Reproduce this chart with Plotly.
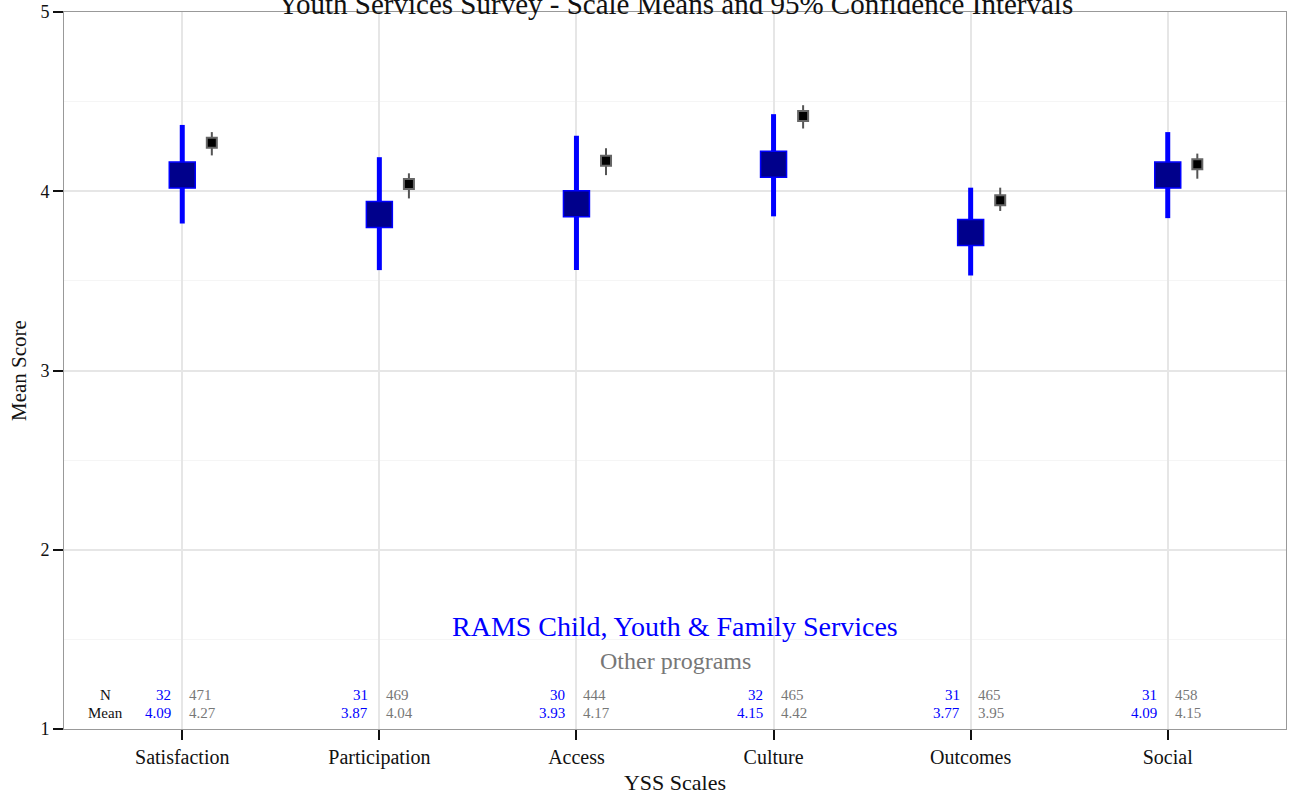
import plotly.graph_objects as go

# YSS scale summaries
scales = ["Satisfaction", "Participation", "Access", "Culture", "Outcomes", "Social"]

rams_n = [32, 31, 30, 32, 31, 31]
rams_mean = [4.09, 3.87, 3.93, 4.15, 3.77, 4.09]
rams_low = [3.82, 3.56, 3.56, 3.86, 3.53, 3.85]
rams_high = [4.37, 4.19, 4.31, 4.43, 4.02, 4.33]

other_n = [471, 469, 444, 465, 465, 458]
other_mean = [4.27, 4.04, 4.17, 4.42, 3.95, 4.15]
other_low = [4.20, 3.96, 4.09, 4.35, 3.89, 4.07]
other_high = [4.33, 4.10, 4.24, 4.48, 4.02, 4.21]

FONT = "Liberation Serif"
BLUE = "#0000ff"
NAVY = "#00008b"
GREY = "#777777"

pos = list(range(1, len(scales) + 1))
offset = 0.15
pos_other = [p + offset for p in pos]


def segments(xs, lows, highs):
    sx, sy = [], []
    for x, lo, hi in zip(xs, lows, highs):
        sx += [x, x, None]
        sy += [lo, hi, None]
    return sx, sy


fig = go.Figure()

# confidence interval lines
bx, by = segments(pos, rams_low, rams_high)
fig.add_trace(go.Scatter(x=bx, y=by, mode="lines", line=dict(color=BLUE, width=5),
                         hoverinfo="skip", showlegend=False))
ox, oy = segments(pos_other, other_low, other_high)
fig.add_trace(go.Scatter(x=ox, y=oy, mode="lines", line=dict(color="#555555", width=2),
                         hoverinfo="skip", showlegend=False))

# means
fig.add_trace(go.Scatter(x=pos, y=rams_mean, mode="markers",
                         marker=dict(symbol="square", size=26, color=NAVY,
                                     line=dict(color=BLUE, width=1.5)),
                         name="RAMS Child, Youth & Family Services", showlegend=False))
fig.add_trace(go.Scatter(x=pos_other, y=other_mean, mode="markers",
                         marker=dict(symbol="square", size=10, color="#000000",
                                     line=dict(color="#666666", width=2)),
                         name="Other programs", showlegend=False))

TS = 15
ann = []
row_n, row_mean = 1.189, 1.089
ann.append(dict(x=0.61, y=row_n, text="N", xanchor="center"))
ann.append(dict(x=0.61, y=row_mean, text="Mean", xanchor="center"))
for p, n1, m1, n2, m2 in zip(pos, rams_n, rams_mean, other_n, other_mean):
    ann.append(dict(x=p, y=row_n, text=str(n1), xanchor="right", xshift=-9,
                    font=dict(family=FONT, size=TS, color=BLUE)))
    ann.append(dict(x=p, y=row_mean, text=f"{m1:.2f}", xanchor="right", xshift=-9,
                    font=dict(family=FONT, size=TS, color=BLUE)))
    ann.append(dict(x=p, y=row_n, text=str(n2), xanchor="left", xshift=5,
                    font=dict(family=FONT, size=TS, color=GREY)))
    ann.append(dict(x=p, y=row_mean, text=f"{m2:.2f}", xanchor="left", xshift=5,
                    font=dict(family=FONT, size=TS, color=GREY)))

annotations = []
for a in ann:
    base = dict(xref="x", yref="y", showarrow=False, yanchor="middle",
                font=dict(family=FONT, size=TS, color="#111111"))
    base.update(a)
    annotations.append(base)

annotations.append(dict(x=3.5, y=1.573, xref="x", yref="y", showarrow=False,
                        text="RAMS Child, Youth & Family Services", yanchor="middle",
                        font=dict(family=FONT, size=28, color=BLUE)))
annotations.append(dict(x=3.5, y=1.378, xref="x", yref="y", showarrow=False,
                        text="Other programs", yanchor="middle",
                        font=dict(family=FONT, size=24, color=GREY)))
annotations.append(dict(x=0.5, y=1.0, xref="paper", yref="paper", showarrow=False,
                        text="Youth Services Survey - Scale Means and 95% Confidence Intervals",
                        xanchor="center", yanchor="middle", yshift=8,
                        font=dict(family=FONT, size=29, color="#111111")))

fig.update_layout(
    width=1289, height=799,
    margin=dict(l=64, r=2, t=10, b=70),
    plot_bgcolor="white", paper_bgcolor="white",
    font=dict(family=FONT, color="#111111"),
    annotations=annotations,
    xaxis=dict(
        range=[0.4, 6.6], tickmode="array", tickvals=pos, ticktext=scales,
        showgrid=True, gridcolor="#e6e6e6", gridwidth=2, zeroline=False,
        ticks="outside", ticklen=10, tickwidth=2, tickcolor="#111111",
        showline=True, linecolor="#999999", linewidth=1, mirror=True,
        tickfont=dict(family=FONT, size=20, color="#111111"),
        title=dict(text="YSS Scales", font=dict(family=FONT, size=22), standoff=6),
    ),
    yaxis=dict(
        range=[1, 5], tickmode="array", tickvals=[1, 2, 3, 4, 5],
        showgrid=True, gridcolor="#e6e6e6", gridwidth=2, zeroline=False,
        ticks="outside", ticklen=10, tickwidth=2, tickcolor="#111111",
        showline=True, linecolor="#999999", linewidth=1, mirror=True,
        ticklabeloverflow="allow",
        tickfont=dict(family=FONT, size=18, color="#111111"),
        minor=dict(tickmode="array", tickvals=[1.5, 2.5, 3.5, 4.5],
                   showgrid=True, gridcolor="#f5f5f5", gridwidth=1, ticks=""),
        title=dict(text="Mean Score", font=dict(family=FONT, size=21), standoff=8),
    ),
)

fig.write_html("out.html")
